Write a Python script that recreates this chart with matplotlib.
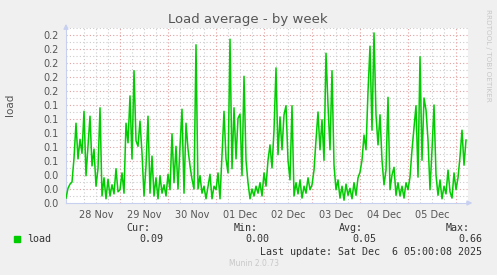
import matplotlib
matplotlib.use("Agg")
import matplotlib.pyplot as plt
import numpy as np
import pandas as pd

# hourly load average, starting 27 Nov 21:00
load = [
    0.007, 0.021, 0.027,
    # 28 Nov
    0.030, 0.064, 0.114, 0.063, 0.091, 0.071, 0.131, 0.039, 0.081, 0.124, 0.053, 0.077,
    0.024, 0.049, 0.136, 0.010, 0.036, 0.006, 0.034, 0.010, 0.026, 0.013, 0.049, 0.016,
    # 29 Nov
    0.019, 0.043, 0.014, 0.114, 0.086, 0.153, 0.063, 0.189, 0.089, 0.081, 0.117, 0.071,
    0.010, 0.053, 0.124, 0.014, 0.067, 0.010, 0.036, 0.006, 0.039, 0.014, 0.026, 0.010,
    # 30 Nov
    0.041, 0.019, 0.099, 0.029, 0.081, 0.020, 0.081, 0.134, 0.014, 0.114, 0.077, 0.053,
    0.034, 0.020, 0.226, 0.020, 0.039, 0.014, 0.024, 0.006, 0.024, 0.041, 0.006, 0.024,
    # 01 Dec
    0.019, 0.043, 0.006, 0.067, 0.131, 0.063, 0.043, 0.234, 0.049, 0.136, 0.063, 0.121,
    0.127, 0.039, 0.181, 0.061, 0.029, 0.006, 0.020, 0.010, 0.024, 0.014, 0.029, 0.010,
    # 02 Dec
    0.043, 0.024, 0.061, 0.083, 0.050, 0.104, 0.193, 0.069, 0.123, 0.076, 0.126, 0.139,
    0.061, 0.033, 0.139, 0.010, 0.029, 0.013, 0.033, 0.007, 0.024, 0.014, 0.036, 0.019,
    # 03 Dec
    0.026, 0.047, 0.090, 0.130, 0.076, 0.119, 0.061, 0.214, 0.140, 0.076, 0.189, 0.054,
    0.019, 0.033, 0.007, 0.024, 0.004, 0.027, 0.011, 0.021, 0.006, 0.029, 0.011, 0.036,
    # 04 Dec
    0.044, 0.061, 0.097, 0.076, 0.159, 0.224, 0.104, 0.243, 0.126, 0.083, 0.126, 0.061,
    0.026, 0.047, 0.151, 0.019, 0.040, 0.051, 0.011, 0.029, 0.010, 0.024, 0.007, 0.029,
    # 05 Dec
    0.019, 0.037, 0.076, 0.107, 0.139, 0.037, 0.209, 0.061, 0.150, 0.133, 0.090, 0.019,
    0.076, 0.140, 0.040, 0.011, 0.033, 0.006, 0.024, 0.013, 0.047, 0.016, 0.007, 0.043,
    # 06 Dec
    0.019, 0.036, 0.066, 0.104, 0.054, 0.090,
]
start = "2025-11-27 21:00"
end = "2025-12-06 06:00"
day_labels = ["28 Nov", "29 Nov", "30 Nov", "01 Dec", "02 Dec", "03 Dec", "04 Dec", "05 Dec"]
stats_names = ["Cur:", "Min:", "Avg:", "Max:"]
stats_values = ["0.09", "0.00", "0.05", "0.66"]
last_update = "Last update: Sat Dec  6 05:00:08 2025"

W, H = 497, 275
fig = plt.figure(figsize=(W / 100, H / 100), dpi=100, facecolor="#f0f0f0")
ax = fig.add_axes([66 / W, 72 / H, 402 / W, 175 / H])
ax.set_facecolor("white")

times = pd.date_range(start, periods=len(load), freq="h")
t0, t1 = pd.Timestamp(start), pd.Timestamp(end)
ax.set_xlim(t0, t1)
ax.set_ylim(0, 0.25)

red = "#e4a0a0"
grey = "#cccccc"
dots = (0, (1, 2))

# horizontal grid
for v in np.arange(0.01, 0.26, 0.02):
    ax.axhline(v, color=grey, lw=0.8, ls=dots, zorder=1)
for v in np.arange(0.02, 0.25, 0.02):
    ax.axhline(v, color=red, lw=0.8, ls=dots, zorder=1)
# vertical grid: midnights red, every 6 h grey
for t in pd.date_range("2025-11-28 06:00", t1, freq="6h"):
    if t.hour == 0:
        ax.axvline(t, color=red, lw=0.8, ls=dots, zorder=1)
    else:
        ax.axvline(t, color=grey, lw=0.8, ls=dots, zorder=1)

ax.plot(times, load, color="#00cc00", lw=1.1, zorder=3)

# ticks
yt = np.arange(0, 0.245, 0.02)
ax.set_yticks(yt)
ax.set_yticklabels([f"{v:.1f}" for v in yt])
noons = pd.date_range("2025-11-28 12:00", periods=len(day_labels), freq="D")
ax.set_xticks(noons)
ax.set_xticklabels(day_labels)
ax.tick_params(axis="both", length=0, labelsize=7, labelcolor="#555555", pad=5)

for s in ["top", "right"]:
    ax.spines[s].set_visible(False)
for s in ["left", "bottom"]:
    ax.spines[s].set_color("#c8d0f0")
ax.annotate("", xy=(1.018, 0), xytext=(0.99, 0), xycoords="axes fraction",
            arrowprops=dict(arrowstyle="-|>", color="#c8d0f0", lw=1, mutation_scale=7))
ax.annotate("", xy=(0, 1.04), xytext=(0, 0.99), xycoords="axes fraction",
            arrowprops=dict(arrowstyle="-|>", color="#c8d0f0", lw=1, mutation_scale=7))


def px(x, y):
    return x / W, 1 - y / H


fig.text(*px(248, 19), "Load average - by week", ha="center", va="center",
         fontsize=9.5, color="#555555")
fig.text(*px(10, 105), "load", ha="center", va="center", rotation=90,
         fontsize=7.5, color="#555555")
fig.text(*px(488, 55), "RRDTOOL / TOBI OETIKER", ha="center", va="center", rotation=270,
         fontsize=5.2, color="#c8c8c8")

mono = "DejaVu Sans Mono"
fig.patches.append(plt.Rectangle(px(14, 242), 6 / W, 6 / H, transform=fig.transFigure,
                                 color="#00cc00"))
fig.text(*px(27, 239), "load", ha="left", va="center", fontsize=7.2,
         family=mono, color="#333333")
name_x = [150, 258, 363, 470]
val_x = [163, 269, 376, 482]
for n, v, nx, vx in zip(stats_names, stats_values, name_x, val_x):
    fig.text(*px(nx, 228), n, ha="right", va="center", fontsize=7.2, family=mono, color="#333333")
    fig.text(*px(vx, 239), v, ha="right", va="center", fontsize=7.2, family=mono, color="#333333")
fig.text(*px(482, 252), last_update, ha="right", va="center", fontsize=7.2,
         family=mono, color="#333333")
fig.text(*px(254, 264), "Munin 2.0.73", ha="center", va="center", fontsize=5.5,
         color="#c8c8c8")

fig.savefig("out.png", dpi=100, facecolor=fig.get_facecolor())
